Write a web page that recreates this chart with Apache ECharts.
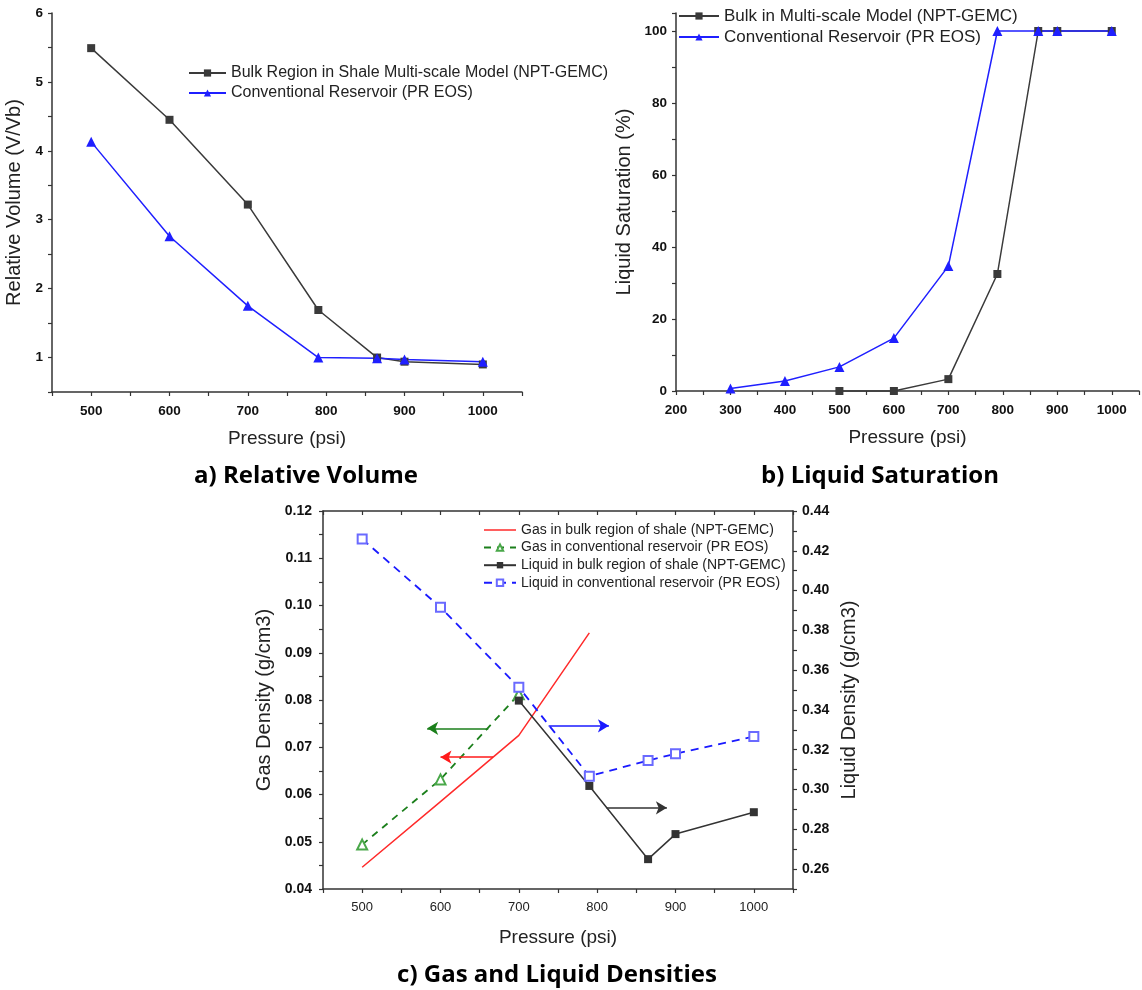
<!DOCTYPE html>
<html>
<head>
<meta charset="utf-8">
<title>Relative Volume, Liquid Saturation, Gas and Liquid Densities</title>
<script src="https://cdn.jsdelivr.net/npm/echarts@6/dist/echarts.min.js"></script>
<style>
  html, body { margin: 0; padding: 0; background: #fff; }
  #chart { width: 1142px; height: 990px; }
</style>
</head>
<body>
<div id="chart"></div>
<script>
// ---- a) Relative volume vs pressure ----
const pressureRelVol = [500, 600, 700, 790, 865, 900, 1000];
const relVolBulk = [5.49, 4.45, 3.22, 1.69, 1.0, 0.94, 0.90];
const relVolConv = [4.13, 2.76, 1.75, 1.0, 0.99, 0.97, 0.94];

// ---- b) Liquid saturation vs pressure ----
const pressureSatBulk = [500, 600, 700, 790, 865, 900, 1000];
const satBulk = [0, 0, 3.3, 32.5, 100, 100, 100];
const pressureSatConv = [300, 400, 500, 600, 700, 790, 865, 900, 1000];
const satConv = [0.7, 2.8, 6.7, 14.7, 34.7, 100, 100, 100, 100];

// ---- c) Gas and liquid densities vs pressure ----
const pressureGasBulk = [500, 600, 700, 790];
const gasBulk = [0.0446, 0.0585, 0.0725, 0.0942];
const pressureGasConv = [500, 600, 700];
const gasConv = [0.0494, 0.0632, 0.0812];
const pressureLiqBulk = [700, 790, 865, 900, 1000];
const liqBulk = [0.3447, 0.3018, 0.2650, 0.2776, 0.2886];
const pressureLiqConv = [500, 600, 700, 790, 865, 900, 1000];
const liqConv = [0.4259, 0.3916, 0.3514, 0.3067, 0.3146, 0.3180, 0.3266];

// Arrows pointing each curve to its own axis: [fromPressure, toPressure, density]
const arrowGasConv = [661, 583, 0.0740];
const arrowGasBulk = [667, 600, 0.0679];
const arrowLiqConv = [738, 815, 0.3320];
const arrowLiqBulk = [812, 889, 0.2908];

// Panel captions
const titleA = 'a) Relative Volume';
const titleB = 'b) Liquid Saturation';
const titleC = 'c) Gas and Liquid Densities';

const FONT = '"Liberation Sans", Arial, sans-serif';
const TITLE_FONT = 'bold 24px "Open Sans", "Noto Sans", sans-serif';
const AX = '#333';

const pairs = (xs, ys) => xs.map((x, i) => [x, ys[i]]);
const near = (a, b) => Math.abs(a - b) < 1e-6;

function axisBase(extra) {
  return Object.assign({
    type: 'value',
    splitLine: { show: false },
    axisLine: { show: true, onZero: false, lineStyle: { color: AX, width: 1.5 } },
    axisTick: { show: true, length: 4, lineStyle: { color: AX, width: 1.2 } },
    nameLocation: 'middle',
    nameTextStyle: { fontFamily: FONT, fontSize: 19, color: '#222' }
  }, extra);
}

function arrowLine(a, color) {
  return {
    silent: true,
    symbol: ['none', 'arrow'],
    symbolSize: [10, 11],
    label: { show: false },
    lineStyle: { color: color, width: 1.6, type: 'solid' },
    emphasis: { disabled: true },
    data: [[{ coord: [a[0], a[2]] }, { coord: [a[1], a[2]] }]]
  };
}

const chart = echarts.init(document.getElementById('chart'), null, { renderer: 'canvas' });

const boldLabel = { fontFamily: FONT, fontSize: 13.5, fontWeight: 'bold', color: '#111' };
const boldLabelC = { fontFamily: FONT, fontSize: 14, fontWeight: 'bold', color: '#111' };
const yName = { fontFamily: FONT, fontSize: 20, color: '#222' };

const option = {
  backgroundColor: '#fff',
  animation: false,
  grid: [
    { left: 52, top: 13, width: 470, height: 379 },
    { left: 676, top: 13, width: 471, height: 378 },
    { left: 323, top: 511, width: 470, height: 378 }
  ],
  xAxis: [
    axisBase({
      gridIndex: 0, min: 450, max: 1050, interval: 50,
      axisLabel: Object.assign({ margin: 12, formatter: v => (v % 100 === 0 ? String(v) : '') }, boldLabel),
      name: 'Pressure (psi)', nameGap: 37
    }),
    axisBase({
      gridIndex: 1, min: 200, max: 1050, interval: 50,
      axisLabel: Object.assign({ margin: 12, formatter: v => (v % 100 === 0 && v <= 1000 ? String(v) : '') }, boldLabel),
      name: 'Pressure (psi)', nameGap: 37
    }),
    axisBase({
      gridIndex: 2, min: 450, max: 1050, interval: 50,
      axisLabel: { margin: 12, fontFamily: FONT, fontSize: 13, color: '#222',
        formatter: v => (v % 100 === 0 ? String(v) : '') },
      name: 'Pressure (psi)', nameGap: 39
    }),
    axisBase({
      gridIndex: 2, position: 'top', min: 450, max: 1050, interval: 50,
      axisTick: { show: true, inside: true, length: 4, lineStyle: { color: AX, width: 1.2 } },
      axisLabel: { show: false }
    })
  ],
  yAxis: [
    axisBase({
      gridIndex: 0, min: 0.5, max: 6, interval: 0.5,
      axisLabel: Object.assign({ margin: 9, formatter: v => (Number.isInteger(v) ? String(v) : '') }, boldLabel),
      name: 'Relative Volume (V/Vb)', nameGap: 28, nameRotate: 90, nameTextStyle: yName
    }),
    axisBase({
      gridIndex: 1, min: 0, max: 105, interval: 10,
      axisLabel: Object.assign({ margin: 9, formatter: v => (v % 20 === 0 && v <= 100 ? String(v) : '') }, boldLabel),
      name: 'Liquid Saturation (%)', nameGap: 42, nameRotate: 90, nameTextStyle: yName
    }),
    axisBase({
      gridIndex: 2, min: 0.04, max: 0.12, interval: 0.005,
      axisLabel: Object.assign({ margin: 11, formatter: v => (near(v * 100, Math.round(v * 100)) ? v.toFixed(2) : '') }, boldLabelC),
      name: 'Gas Density (g/cm3)', nameGap: 49, nameRotate: 90, nameTextStyle: yName
    }),
    axisBase({
      gridIndex: 2, position: 'right', min: 0.25, max: 0.44, interval: 0.01,
      axisLabel: Object.assign({ margin: 9, formatter: v => {
        const r = Math.round(v * 100);
        return near(v * 100, r) && r % 2 === 0 ? v.toFixed(2) : '';
      } }, boldLabelC),
      name: 'Liquid Density (g/cm3)', nameGap: 46, nameRotate: 90, nameTextStyle: yName
    })
  ],
  legend: [
    {
      left: 188, top: 65, orient: 'vertical', padding: 0, itemGap: 4,
      itemWidth: 37, itemHeight: 9,
      textStyle: { fontFamily: FONT, fontSize: 16, color: '#222' },
      data: ['Bulk Region in Shale Multi-scale Model (NPT-GEMC)', 'Conventional Reservoir (PR EOS)']
    },
    {
      left: 678, top: 7.5, orient: 'vertical', padding: 0, itemGap: 4,
      itemWidth: 40, itemHeight: 9,
      textStyle: { fontFamily: FONT, fontSize: 17, color: '#222' },
      data: ['Bulk in Multi-scale Model (NPT-GEMC)', 'Conventional Reservoir (PR EOS)']
    },
    {
      left: 483, top: 523, orient: 'vertical', padding: 0, itemGap: 3.6,
      itemWidth: 32, itemHeight: 8,
      textStyle: { fontFamily: FONT, fontSize: 14, color: '#222' },
      data: [
        { name: 'Gas in bulk region of shale (NPT-GEMC)', icon: 'path://M0,0H32V1.5H0Z' },
        'Gas in conventional reservoir (PR EOS)',
        'Liquid in bulk region of shale (NPT-GEMC)',
        'Liquid in conventional reservoir (PR EOS)'
      ]
    }
  ],
  series: [
    {
      name: 'Bulk Region in Shale Multi-scale Model (NPT-GEMC)', type: 'line',
      xAxisIndex: 0, yAxisIndex: 0, data: pairs(pressureRelVol, relVolBulk),
      symbol: 'rect', symbolSize: 8,
      itemStyle: { color: '#3a3a3a' }, lineStyle: { color: '#3a3a3a', width: 1.5 }
    },
    {
      name: 'Conventional Reservoir (PR EOS)', type: 'line',
      xAxisIndex: 0, yAxisIndex: 0, data: pairs(pressureRelVol, relVolConv),
      symbol: 'triangle', symbolSize: 10,
      itemStyle: { color: '#1f1fff' }, lineStyle: { color: '#1f1fff', width: 1.5 }
    },
    {
      name: 'Bulk in Multi-scale Model (NPT-GEMC)', type: 'line',
      xAxisIndex: 1, yAxisIndex: 1, data: pairs(pressureSatBulk, satBulk),
      symbol: 'rect', symbolSize: 8, clip: false,
      itemStyle: { color: '#3a3a3a' }, lineStyle: { color: '#3a3a3a', width: 1.5 }
    },
    {
      name: 'Conventional Reservoir (PR EOS)', type: 'line',
      xAxisIndex: 1, yAxisIndex: 1, data: pairs(pressureSatConv, satConv),
      symbol: 'triangle', symbolSize: 10,
      itemStyle: { color: '#1f1fff' }, lineStyle: { color: '#1f1fff', width: 1.5 }
    },
    {
      name: 'Gas in bulk region of shale (NPT-GEMC)', type: 'line',
      xAxisIndex: 2, yAxisIndex: 2, data: pairs(pressureGasBulk, gasBulk),
      symbol: 'none', showSymbol: false,
      itemStyle: { color: '#ff2a2a' }, lineStyle: { color: '#ff2a2a', width: 1.5 },
      markLine: arrowLine(arrowGasBulk, '#ff1a1a')
    },
    {
      name: 'Gas in conventional reservoir (PR EOS)', type: 'line',
      xAxisIndex: 2, yAxisIndex: 2, data: pairs(pressureGasConv, gasConv),
      symbol: 'emptyTriangle', symbolSize: 10,
      itemStyle: { color: '#4aa84a', borderWidth: 1 },
      lineStyle: { color: '#1b7f1b', width: 1.8, type: [7, 6] },
      markLine: arrowLine(arrowGasConv, '#1b7f1b')
    },
    {
      name: 'Liquid in bulk region of shale (NPT-GEMC)', type: 'line',
      xAxisIndex: 2, yAxisIndex: 3, data: pairs(pressureLiqBulk, liqBulk),
      symbol: 'rect', symbolSize: 8,
      itemStyle: { color: '#333' }, lineStyle: { color: '#333', width: 1.5 },
      markLine: arrowLine(arrowLiqBulk, '#333')
    },
    {
      name: 'Liquid in conventional reservoir (PR EOS)', type: 'line',
      xAxisIndex: 2, yAxisIndex: 3, data: pairs(pressureLiqConv, liqConv),
      symbol: 'emptyRect', symbolSize: 9,
      itemStyle: { color: '#6a6aff', borderWidth: 1 },
      lineStyle: { color: '#1a1aff', width: 1.8, type: [8, 6] },
      markLine: arrowLine(arrowLiqConv, '#1a1aff')
    }
  ],
  graphic: [
    { type: 'text', x: 306, y: 476, style: { text: titleA, font: TITLE_FONT, fill: '#000', align: 'center', verticalAlign: 'middle' } },
    { type: 'text', x: 880, y: 476, style: { text: titleB, font: TITLE_FONT, fill: '#000', align: 'center', verticalAlign: 'middle' } },
    { type: 'text', x: 557, y: 975, style: { text: titleC, font: TITLE_FONT, fill: '#000', align: 'center', verticalAlign: 'middle' } }
  ]
};

chart.setOption(option);
</script>
</body>
</html>
